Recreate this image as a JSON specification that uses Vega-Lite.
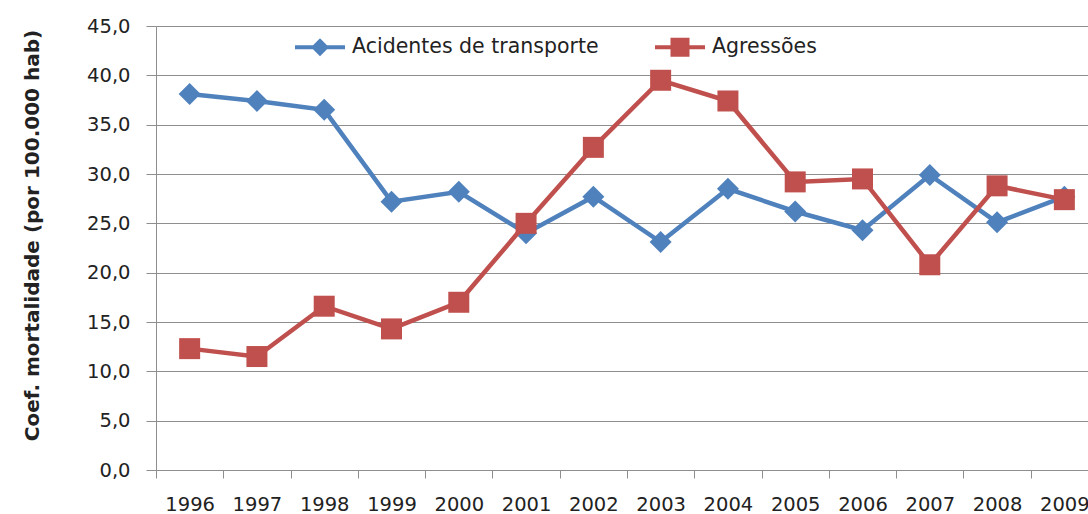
{
  "$schema": "https://vega.github.io/schema/vega-lite/v6.json",
  "width": 932,
  "height": 444,
  "autosize": {"type": "none"},
  "padding": {"left": 156, "top": 26, "right": 0, "bottom": 44},
  "background": "white",
  "config": {"view": {"stroke": null}, "font": "DejaVu Sans"},
  "data": {
    "values": [
      {"ano": "1996", "serie": "Acidentes de transporte", "valor": 38.1},
      {"ano": "1997", "serie": "Acidentes de transporte", "valor": 37.4},
      {"ano": "1998", "serie": "Acidentes de transporte", "valor": 36.5},
      {"ano": "1999", "serie": "Acidentes de transporte", "valor": 27.2},
      {"ano": "2000", "serie": "Acidentes de transporte", "valor": 28.2},
      {"ano": "2001", "serie": "Acidentes de transporte", "valor": 24.0},
      {"ano": "2002", "serie": "Acidentes de transporte", "valor": 27.7},
      {"ano": "2003", "serie": "Acidentes de transporte", "valor": 23.1},
      {"ano": "2004", "serie": "Acidentes de transporte", "valor": 28.5},
      {"ano": "2005", "serie": "Acidentes de transporte", "valor": 26.2},
      {"ano": "2006", "serie": "Acidentes de transporte", "valor": 24.3},
      {"ano": "2007", "serie": "Acidentes de transporte", "valor": 29.9},
      {"ano": "2008", "serie": "Acidentes de transporte", "valor": 25.1},
      {"ano": "2009", "serie": "Acidentes de transporte", "valor": 27.7},
      {"ano": "1996", "serie": "Agressões", "valor": 12.3},
      {"ano": "1997", "serie": "Agressões", "valor": 11.5},
      {"ano": "1998", "serie": "Agressões", "valor": 16.6},
      {"ano": "1999", "serie": "Agressões", "valor": 14.3},
      {"ano": "2000", "serie": "Agressões", "valor": 17.0},
      {"ano": "2001", "serie": "Agressões", "valor": 25.0},
      {"ano": "2002", "serie": "Agressões", "valor": 32.7},
      {"ano": "2003", "serie": "Agressões", "valor": 39.5},
      {"ano": "2004", "serie": "Agressões", "valor": 37.4},
      {"ano": "2005", "serie": "Agressões", "valor": 29.2},
      {"ano": "2006", "serie": "Agressões", "valor": 29.5},
      {"ano": "2007", "serie": "Agressões", "valor": 20.8},
      {"ano": "2008", "serie": "Agressões", "valor": 28.8},
      {"ano": "2009", "serie": "Agressões", "valor": 27.4}
    ]
  },
  "encoding": {
    "x": {
      "field": "ano",
      "type": "ordinal",
      "scale": {"type": "band", "range": [0, 942], "paddingInner": 0, "paddingOuter": 0},
      "axis": {
        "title": null,
        "tickBand": "extent",
        "labelAngle": 0,
        "labelFontSize": 19.5,
        "labelColor": "#222222",
        "labelPadding": 17,
        "tickSize": 8,
        "tickColor": "#8e8e8e",
        "domainColor": "#8e8e8e",
        "grid": false
      }
    },
    "y": {
      "field": "valor",
      "type": "quantitative",
      "scale": {"domain": [0, 45], "nice": false},
      "axis": {
        "values": [0, 5, 10, 15, 20, 25, 30, 35, 40, 45],
        "labelExpr": "replace(format(datum.value, '.1f'), '.', ',')",
        "title": "Coef. mortalidade (por 100.000 hab)",
        "titleFontSize": 20,
        "titleFontWeight": "bold",
        "titleColor": "#222222",
        "titlePadding": 44,
        "titleY": 209,
        "labelFontSize": 19.5,
        "labelColor": "#222222",
        "labelPadding": 16,
        "tickSize": 10,
        "tickColor": "#8e8e8e",
        "domainColor": "#8e8e8e",
        "grid": true,
        "gridColor": "#8e8e8e"
      }
    }
  },
  "layer": [
    {
      "transform": [{"filter": "datum.serie === 'Acidentes de transporte'"}],
      "mark": {"type": "line", "strokeWidth": 4.5},
      "encoding": {
        "color": {
          "field": "serie",
          "type": "nominal",
          "scale": {"domain": ["Acidentes de transporte", "Agressões"], "range": ["#4F81BD", "#C0504D"]},
          "legend": {
            "title": null,
            "orient": "none",
            "legendX": 139,
            "legendY": -4,
            "direction": "horizontal",
            "columns": 2,
            "padding": 0,
            "symbolSize": 2500,
            "symbolType": {"expr": "datum.value === 'Agressões' ? 'M-1,-0.08H1V0.08H-1Z M-0.38,-0.38H0.38V0.38H-0.38Z' : 'M-1,-0.08H1V0.08H-1Z M0,-0.36L0.36,0L0,0.36L-0.36,0Z'"},
            "symbolStrokeWidth": 0,
            "labelFontSize": 20.5,
            "labelColor": "#222222",
            "labelLimit": 400,
            "labelOffset": 7,
            "columnPadding": 56,
            "encoding": {
              "symbols": {
                "update": {
                  "fill": {"scale": "color", "field": "value"},
                  "strokeWidth": {"value": 0},
                  "opacity": {"value": 1}
                }
              }
            }
          }
        }
      }
    },
    {
      "transform": [{"filter": "datum.serie === 'Acidentes de transporte'"}],
      "mark": {"type": "point", "filled": true, "opacity": 1, "shape": "diamond", "size": 484},
      "encoding": {"color": {"field": "serie", "type": "nominal", "legend": null}}
    },
    {
      "transform": [{"filter": "datum.serie === 'Agressões'"}],
      "mark": {"type": "line", "strokeWidth": 4.5},
      "encoding": {"color": {"field": "serie", "type": "nominal", "legend": null}}
    },
    {
      "transform": [{"filter": "datum.serie === 'Agressões'"}],
      "mark": {"type": "point", "filled": true, "opacity": 1, "shape": "square", "size": 441},
      "encoding": {"color": {"field": "serie", "type": "nominal", "legend": null}}
    }
  ]
}
